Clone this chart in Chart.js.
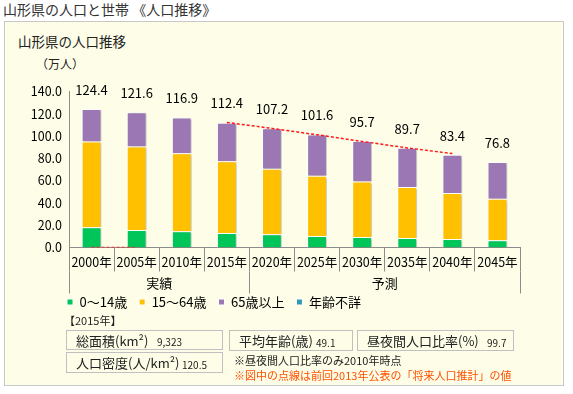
<!DOCTYPE html>
<html lang="ja">
<head>
<meta charset="utf-8">
<script src="https://cdn.jsdelivr.net/npm/chart.js@4.4.1/dist/chart.umd.min.js"></script>
<style>
  body { margin: 0; width: 573px; height: 394px; overflow: hidden; background: #fff;
         font-family: "Noto Sans CJK JP", sans-serif; color: #222; position: relative; }
  .abs { position: absolute; white-space: nowrap; }
  #pageTitle { left: 3px; top: 0px; font-size: 14px; line-height: 18px; color: #333; }
  #panel { left: 4px; top: 21px; width: 558px; height: 363px; background: #fdfde8; border: 1px solid #c8c8c8; }
  #chartTitle { left: 18px; top: 32px; font-size: 13.5px; line-height: 18px; color: #222; }
  #unit { left: 36px; top: 56px; font-size: 12px; line-height: 16px; color: #222; }
  #chartBox { left: 10px; top: 50px; width: 530px; height: 280px; }
  .box { position: absolute; border: 1px solid #c0c0c0; box-sizing: border-box; font-size: 13px; color: #222; }
  .box span { position: absolute; top: 0; }
  .box small { position: absolute; font-size: 10px; }
  .note { font-size: 11px; line-height: 14px; }
</style>
</head>
<body>
<div class="abs" id="pageTitle">山形県の人口と世帯 《人口推移》</div>
<div class="abs" id="panel"></div>
<div class="abs" id="chartTitle">山形県の人口推移</div>
<div class="abs" id="unit">（万人）</div>
<div class="abs" id="chartBox"><canvas id="chart" width="530" height="280"></canvas></div>

<div class="abs note" style="left:64px; top:313px; font-size:11px;">【2015年】</div>
<div class="box" style="left:66px; top:330px; width:157px; height:20px;">
  <span style="left:9px; line-height:19px;">総面積(km²)</span><small style="left:90px; top:3px;">9,323</small>
</div>
<div class="box" style="left:229px; top:330px; width:124px; height:21px;">
  <span style="left:9px; line-height:20px;">平均年齢(歳)</span><small style="left:86px; top:4px;">49.1</small>
</div>
<div class="box" style="left:357px; top:330px; width:157px; height:21px;">
  <span style="left:9px; line-height:20px;">昼夜間人口比率(%)</span><small style="left:129px; top:4px;">99.7</small>
</div>
<div class="box" style="left:66px; top:352px; width:157px; height:21px;">
  <span style="left:9px; line-height:20px;">人口密度(人/km²)</span><small style="left:115px; top:4px;">120.5</small>
</div>
<div class="abs note" style="left:234px; top:353px; color:#222;">※昼夜間人口比率のみ2010年時点</div>
<div class="abs note" style="left:234px; top:368px; color:#ff5000;">※図中の点線は前回2013年公表の「将来人口推計」の値</div>

<script>
const years = ['2000年', '2005年', '2010年', '2015年', '2020年', '2025年', '2030年', '2035年', '2040年', '2045年'];
const young = [18.3, 15.7, 14.6, 13.0, 11.8, 10.4, 9.4, 8.5, 7.6, 6.5];
const working = [76.9, 75.1, 70.1, 64.6, 59.0, 54.0, 49.9, 45.9, 41.4, 37.4];
const elderly = [29.2, 30.8, 32.1, 34.4, 36.4, 37.2, 36.4, 35.3, 34.4, 32.9];
const unknownAge = [0, 0, 0.1, 0.4, 0, 0, 0, 0, 0, 0];
const totals = [124.4, 121.6, 116.9, 112.4, 107.2, 101.6, 95.7, 89.7, 83.4, 76.8];
const prevEstimate = [0, 0, null, 112.4, 107.0, 101.3, 95.3, 89.5, 84.4, null];
const yTicks = [0, 20, 40, 60, 80, 100, 120, 140];
const groupNames = ['実績', '予測'];
const groupStarts = [0, 4];
const groupEnds = [4, 10];

const green = '#00c65a';
const yellow = '#ffc000';
const purple = '#9b78b4';
const teal = '#2e9ab6';
const axisGray = '#8c8c8c';

Chart.defaults.font.family = '"Noto Sans CJK JP", sans-serif';
Chart.defaults.color = '#000';

const barShadow = {
  id: 'barShadow',
  beforeDatasetDraw(chart, args) {
    if (args.meta.type !== 'bar') return;
    const ctx = chart.ctx;
    ctx.save();
    ctx.shadowColor = 'rgba(0,0,0,0.22)';
    ctx.shadowOffsetX = 2;
    ctx.shadowOffsetY = 1;
    ctx.shadowBlur = 2;
  },
  afterDatasetDraw(chart, args) {
    if (args.meta.type !== 'bar') return;
    chart.ctx.restore();
  }
};

// legend sits under the plot, not at the canvas edge
const legendShift = {
  id: 'legendShift',
  afterLayout(chart) {
    chart.legend.left = 45;
  }
};

const totalLabels = {
  id: 'totalLabels',
  afterDatasetsDraw(chart) {
    const { ctx, scales: { x, y } } = chart;
    ctx.save();
    ctx.font = '13px "Noto Sans CJK JP", sans-serif';
    ctx.fillStyle = '#000';
    ctx.textAlign = 'center';
    ctx.textBaseline = 'middle';
    totals.forEach((t, i) => {
      ctx.fillText(t.toFixed(1), x.getPixelForValue(i), y.getPixelForValue(t) - 19);
    });
    ctx.restore();
  }
};

const groupAxis = {
  id: 'groupAxis',
  afterDraw(chart) {
    const { ctx, scales: { x } } = chart;
    const half = (x.getPixelForValue(1) - x.getPixelForValue(0)) / 2;
    const edge = (i) => x.getPixelForValue(i) - half;
    ctx.save();
    ctx.strokeStyle = axisGray;
    ctx.lineWidth = 1;
    const edges = [...new Set([...groupStarts, ...groupEnds])];
    edges.forEach(i => {
      const px = Math.round(edge(i)) + 0.5;
      ctx.beginPath();
      ctx.moveTo(px, x.top + 24);
      ctx.lineTo(px, x.top + 46);
      ctx.stroke();
    });
    ctx.font = '13px "Noto Sans CJK JP", sans-serif';
    ctx.fillStyle = '#000';
    ctx.textAlign = 'center';
    ctx.textBaseline = 'middle';
    groupNames.forEach((g, k) => {
      ctx.fillText(g, (edge(groupStarts[k]) + edge(groupEnds[k])) / 2, x.top + 36);
    });
    ctx.restore();
  }
};

const barStyle = { borderColor: '#ffffff', borderWidth: 1, barPercentage: 0.44, categoryPercentage: 1, stack: 'pop' };

new Chart(document.getElementById('chart'), {
  type: 'bar',
  plugins: [barShadow, legendShift, totalLabels, groupAxis],
  data: {
    labels: years,
    datasets: [
      { type: 'line', label: '前回推計', data: prevEstimate, borderColor: '#ff1a1a', borderWidth: 1.5,
        borderDash: [3, 2], pointRadius: 0, spanGaps: false, stack: 'prev', order: 0, fill: false },
      { label: '0～14歳', data: young, backgroundColor: green, order: 1, ...barStyle },
      { label: '15～64歳', data: working, backgroundColor: yellow, order: 1, ...barStyle },
      { label: '65歳以上', data: elderly, backgroundColor: purple, order: 1, ...barStyle },
      { label: '年齢不詳', data: unknownAge, backgroundColor: teal, order: 1, ...barStyle }
    ]
  },
  options: {
    responsive: false,
    animation: false,
    layout: { padding: { left: 0, top: 41.7, right: 20, bottom: 11.5 } },
    scales: {
      x: {
        stacked: true,
        grid: { offset: true, drawOnChartArea: false, drawTicks: true, tickLength: 24, color: axisGray },
        border: { color: axisGray },
        ticks: { color: '#000', font: { size: 12.5 }, padding: -17, maxRotation: 0, autoSkip: false },
        afterFit: (axis) => { axis.height = 36; }
      },
      y: {
        stacked: true,
        min: 0,
        max: 140,
        grid: { display: false, drawTicks: false },
        border: { color: axisGray },
        afterBuildTicks: (axis) => { axis.ticks = yTicks.map(v => ({ value: v })); },
        ticks: { color: '#000', font: { size: 12.5 }, padding: 7, callback: (v) => Number(v).toFixed(1) },
        afterFit: (axis) => { axis.width = 59; }
      }
    },
    plugins: {
      tooltip: { enabled: false },
      legend: {
        position: 'bottom',
        align: 'start',
        labels: {
          boxWidth: 6,
          boxHeight: 6,
          padding: 12,
          color: '#000',
          font: { size: 13 },
          filter: (item) => item.text !== '前回推計'
        }
      }
    }
  }
});
</script>
</body>
</html>
